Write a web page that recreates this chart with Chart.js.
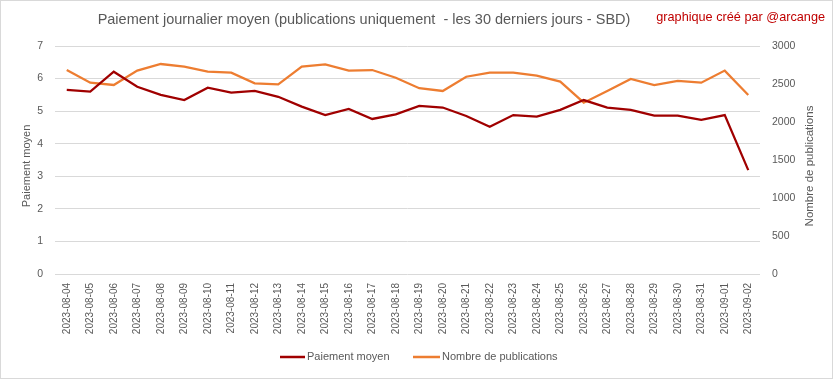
<!DOCTYPE html>
<html>
<head>
<meta charset="utf-8">
<script src="https://cdn.jsdelivr.net/npm/chart.js@4"></script>
<style>
html,body{margin:0;padding:0;background:#fff;}
#wrap{width:833px;height:379px;position:relative;}
</style>
</head>
<body>
<div id="wrap"><canvas id="c" width="833" height="379"></canvas></div>
<script>
const categories = ["2023-08-04","2023-08-05","2023-08-06","2023-08-07","2023-08-08","2023-08-09","2023-08-10","2023-08-11","2023-08-12","2023-08-13","2023-08-14","2023-08-15","2023-08-16","2023-08-17","2023-08-18","2023-08-19","2023-08-20","2023-08-21","2023-08-22","2023-08-23","2023-08-24","2023-08-25","2023-08-26","2023-08-27","2023-08-28","2023-08-29","2023-08-30","2023-08-31","2023-09-01","2023-09-02"];
const paiementMoyen = [5.65,5.60,6.21,5.75,5.50,5.34,5.72,5.57,5.62,5.44,5.14,4.88,5.07,4.76,4.90,5.16,5.11,4.85,4.52,4.88,4.83,5.04,5.34,5.11,5.04,4.86,4.86,4.73,4.88,3.19];
const nombrePublications = [2684,2517,2487,2676,2763,2728,2662,2649,2509,2496,2728,2759,2676,2684,2583,2445,2408,2596,2649,2649,2610,2531,2254,2408,2566,2487,2540,2517,2676,2355];
const leftTicks = [0,1,2,3,4,5,6,7];
const rightTicks = [0,500,1000,1500,2000,2500,3000];
const titleText = "Paiement journalier moyen (publications uniquement  - les 30 derniers jours - SBD)";
const noteText = "graphique créé par @arcange";
const seriesLabels = ["Paiement moyen","Nombre de publications"];
const axisTitles = ["Paiement moyen","Nombre de publications"];

const FONT = "'Liberation Sans', Arial, sans-serif";
Chart.defaults.font.family = FONT;
Chart.defaults.color = '#595959';

const decor = {
  id: 'decor',
  afterDraw(chart) {
    const ctx = chart.ctx;
    ctx.save();
    // frame
    ctx.strokeStyle = '#d9d9d9';
    ctx.lineWidth = 1;
    ctx.strokeRect(0.5, 0.5, 832, 378);
    // title
    ctx.fillStyle = '#595959';
    ctx.font = "14.5px " + FONT;
    ctx.textAlign = 'center';
    ctx.textBaseline = 'middle';
    ctx.fillText(titleText, 364, 20);
    // note
    ctx.fillStyle = '#c00000';
    ctx.font = "12.7px " + FONT;
    ctx.textAlign = 'right';
    ctx.fillText(noteText, 825, 17);
    // axis titles (read bottom to top)
    const drawVTitle = (text, x, y, size) => {
      ctx.save();
      ctx.translate(x, y);
      ctx.rotate(-Math.PI / 2);
      ctx.fillStyle = '#595959';
      ctx.font = size + "px " + FONT;
      ctx.textAlign = 'center';
      ctx.textBaseline = 'middle';
      ctx.fillText(text, 0, 0);
      ctx.restore();
    };
    drawVTitle(axisTitles[0], 27, 166, 11);
    drawVTitle(axisTitles[1], 810, 166, 11.5);
    // legend
    const items = [{x0:280,x1:305,tx:307},{x0:413,x1:440,tx:442}];
    ctx.font = "11px " + FONT;
    ctx.textAlign = 'left';
    ctx.textBaseline = 'middle';
    chart.data.datasets.forEach((ds, i) => {
      const it = items[i];
      ctx.strokeStyle = ds.borderColor;
      ctx.lineWidth = 2.5;
      ctx.beginPath();
      ctx.moveTo(it.x0, 357);
      ctx.lineTo(it.x1, 357);
      ctx.stroke();
      ctx.fillStyle = '#595959';
      ctx.fillText(ds.label, it.tx, 357);
    });
    ctx.restore();
  }
};

new Chart(document.getElementById('c'), {
  type: 'line',
  data: {
    labels: categories,
    datasets: [
      {label: seriesLabels[0], data: paiementMoyen, yAxisID: 'y', borderColor: '#a00000', backgroundColor: '#a00000', borderWidth: 2.25, pointRadius: 0, tension: 0},
      {label: seriesLabels[1], data: nombrePublications, yAxisID: 'y1', borderColor: '#ed7d31', backgroundColor: '#ed7d31', borderWidth: 2.25, pointRadius: 0, tension: 0}
    ]
  },
  options: {
    responsive: false,
    animation: false,
    layout: {padding: {top: 46, left: 0, right: 0, bottom: 0}},
    plugins: {legend: {display: false}, title: {display: false}, tooltip: {enabled: false}},
    scales: {
      x: {
        offset: true,
        grid: {display: false, drawTicks: false},
        border: {display: false},
        ticks: {autoSkip: false, minRotation: 90, maxRotation: 90, padding: 9, font: {size: 10}, color: '#595959'},
        afterFit(s) { s.height = 105; }
      },
      y: {
        position: 'left',
        min: 0, max: 7,
        afterBuildTicks(s) { s.ticks = leftTicks.map(v => ({value: v})); },
        grid: {color: '#d9d9d9', drawTicks: false},
        border: {display: false},
        ticks: {padding: 12, font: {size: 10.5}, color: '#595959', callback: v => String(v)},
        title: {display: false},
        afterFit(s) { s.width = 55; }
      },
      y1: {
        position: 'right',
        min: 0, max: 3000,
        afterBuildTicks(s) { s.ticks = rightTicks.map(v => ({value: v})); },
        grid: {display: false, drawTicks: false},
        border: {display: false},
        ticks: {padding: 12, font: {size: 10.5}, color: '#595959', callback: v => String(v)},
        title: {display: false},
        afterFit(s) { s.width = 73; }
      }
    }
  },
  plugins: [decor]
});
</script>
</body>
</html>
